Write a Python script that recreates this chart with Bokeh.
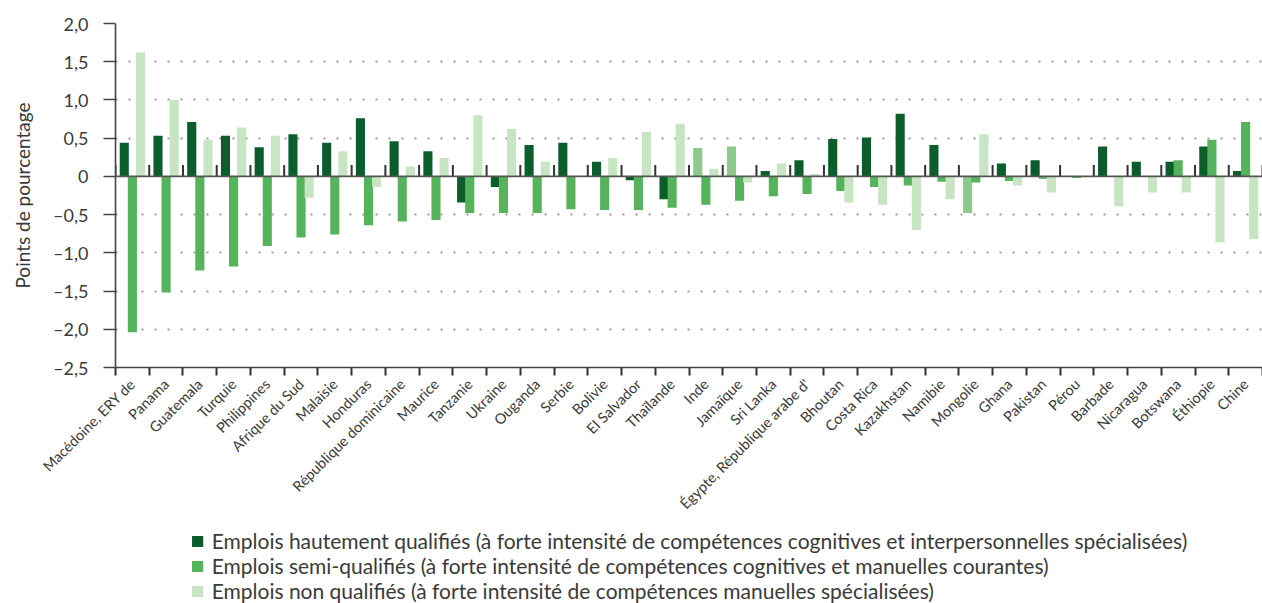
import math
from bokeh.plotting import figure
from bokeh.layouts import column
from bokeh.models import (ColumnDataSource, Range1d, FixedTicker, Span, Legend, LegendItem)
from bokeh.transform import dodge
from bokeh.embed import file_html
from bokeh.resources import INLINE

categories = [
    "Macédoine, ERY de", "Panama", "Guatemala", "Turquie", "Philippines",
    "Afrique du Sud", "Malaisie", "Honduras", "République dominicaine", "Maurice",
    "Tanzanie", "Ukraine", "Ouganda", "Serbie", "Bolivie", "El Salvador",
    "Thaïlande", "Inde", "Jamaïque", "Sri Lanka", "Égypte, République arabe d'",
    "Bhoutan", "Costa Rica", "Kazakhstan", "Namibie", "Mongolie", "Ghana",
    "Pakistan", "Pérou", "Barbade", "Nicaragua", "Botswana", "Éthiopie", "Chine",
]
high_skill = [0.44, 0.53, 0.71, 0.53, 0.38, 0.55, 0.44, 0.76, 0.46, 0.33,
              -0.34, -0.14, 0.41, 0.44, 0.19, -0.05, -0.30, 0.37, 0.39, 0.07,
              0.21, 0.49, 0.51, 0.82, 0.41, -0.48, 0.17, 0.21, 0.0, 0.39,
              0.19, 0.19, 0.39, 0.07]
semi_skill = [-2.04, -1.52, -1.23, -1.18, -0.91, -0.80, -0.76, -0.64, -0.59, -0.57,
              -0.48, -0.48, -0.48, -0.43, -0.44, -0.44, -0.41, -0.37, -0.32, -0.26,
              -0.23, -0.19, -0.14, -0.12, -0.07, -0.08, -0.06, -0.03, -0.02, 0.0,
              0.0, 0.21, 0.48, 0.71]
low_skill = [1.62, 1.00, 0.48, 0.64, 0.53, -0.28, 0.33, -0.14, 0.13, 0.24,
             0.80, 0.62, 0.19, 0.0, 0.24, 0.58, 0.69, 0.10, -0.08, 0.17,
             0.03, -0.34, -0.37, -0.70, -0.30, 0.55, -0.12, -0.21, -0.01, -0.39,
             -0.21, -0.21, -0.86, -0.82]
# countries whose high-skill bar is drawn in a lighter tint in the source
muted_high = ["Inde", "Jamaïque", "Mongolie"]

y_ticks = [2.0, 1.5, 1.0, 0.5, 0.0, -0.5, -1.0, -1.5, -2.0, -2.5]
y_tick_labels = ["2,0", "1,5", "1,0", "0,5", "0", "–0,5", "–1,0", "–1,5", "–2,0", "–2,5"]
y_title = "Points de pourcentage"
legend_labels = [
    "Emplois hautement qualifiés (à forte intensité de compétences cognitives et interpersonnelles spécialisées)",
    "Emplois semi-qualifiés (à forte intensité de compétences cognitives et manuelles courantes)",
    "Emplois non qualifiés (à forte intensité de compétences manuelles spécialisées)",
]

DARK = "#0b5e2b"
MID = "#55b35b"
LIGHT = "#c7e4c3"
MUTED = "#8dc98b"
FONT = "Lato"
TXT = "#3a3a3a"

n = len(categories)
xc = [i + 0.5 for i in range(n)]
bounds = list(range(n + 1))
high_colors = [MUTED if c in muted_high else DARK for c in categories]

src = ColumnDataSource(dict(x=xc, high=high_skill, semi=semi_skill, low=low_skill,
                            hc=high_colors))

W = 1262
p = figure(width=W, height=528, x_range=Range1d(0, n), y_range=Range1d(-2.5, 2.0),
           output_backend="svg", toolbar_location=None,
           min_border_left=115, min_border_top=23, min_border_right=0,
           min_border_bottom=161)
p.outline_line_color = None
p.background_fill_color = "white"
p.border_fill_color = "white"

# grid
p.xgrid.grid_line_color = None
p.ygrid.ticker = FixedTicker(ticks=[t for t in y_ticks if t != 0])
p.ygrid.grid_line_color = "#9a9a9a"
p.ygrid.grid_line_width = 2
p.ygrid.grid_line_dash = "2 11"

bw = 0.27
p.vbar(x=dodge("x", -0.24), top="high", bottom=0, width=bw, source=src,
       fill_color="hc", line_color=None)
p.vbar(x=dodge("x", 0.0), top="semi", bottom=0, width=bw, source=src,
       fill_color=MID, line_color=None)
p.vbar(x=dodge("x", 0.24), top="low", bottom=0, width=bw, source=src,
       fill_color=LIGHT, line_color=None)

# zero line and its small category separators
p.add_layout(Span(location=0, dimension="width", line_color="#555555", line_width=1.6))
p.segment(x0=bounds, y0=[0] * len(bounds), x1=bounds, y1=[0.15] * len(bounds),
          line_color="#333333", line_width=2)

# y axis
yax = p.yaxis[0]
yax.ticker = FixedTicker(ticks=y_ticks)
yax.major_label_overrides = {(int(t) if float(t).is_integer() else t): lab
                             for t, lab in zip(y_ticks, y_tick_labels)}
yax.axis_line_color = "#444444"
yax.axis_line_width = 1.6
yax.major_tick_line_color = "#444444"
yax.major_tick_line_width = 1.6
yax.major_tick_out = 12
yax.major_tick_in = 0
yax.minor_tick_line_color = None
yax.major_label_standoff = 15
yax.major_label_text_font = FONT
yax.major_label_text_font_size = "18px"
yax.major_label_text_color = TXT
yax.axis_label = y_title
yax.axis_label_text_font = FONT
yax.axis_label_text_font_style = "normal"
yax.axis_label_text_font_size = "19px"
yax.axis_label_text_color = TXT
yax.axis_label_standoff = 16

# x axis
xax = p.xaxis[0]
xax.ticker = FixedTicker(ticks=xc, minor_ticks=bounds)
xax.major_label_overrides = {x: c for x, c in zip(xc, categories)}
xax.major_label_orientation = math.pi / 4
xax.major_tick_line_color = None
xax.minor_tick_line_color = "#333333"
xax.minor_tick_line_width = 2
xax.minor_tick_out = 8
xax.minor_tick_in = 0
xax.axis_line_color = "#444444"
xax.axis_line_width = 1.6
xax.major_label_standoff = 6
xax.major_label_text_font = FONT
xax.major_label_text_font_size = "14.5px"
xax.major_label_text_color = TXT

# legend in its own strip below the chart (swatch renderers carry no visible bar)
lg = figure(width=W, height=75, x_range=Range1d(0, 1), y_range=Range1d(0, 1),
            output_backend="svg", toolbar_location=None,
            min_border_left=115, min_border_right=0, min_border_top=0,
            min_border_bottom=0)
lg.axis.visible = False
lg.grid.grid_line_color = None
lg.outline_line_color = None
lg.border_fill_color = "white"
nan = float("nan")
swatches = [lg.vbar(x=[nan], top=[nan], bottom=[nan], width=0.1, fill_color=c,
                    line_color=None) for c in (DARK, MID, LIGHT)]
legend = Legend(items=[LegendItem(label=lab, renderers=[r])
                       for lab, r in zip(legend_labels, swatches)],
                location="top_center", orientation="vertical")
legend.border_line_color = None
legend.background_fill_alpha = 0
legend.label_text_font = FONT
legend.label_text_font_size = "21px"
legend.label_text_color = TXT
legend.glyph_width = 14
legend.glyph_height = 14
legend.label_height = 20
legend.spacing = 0
legend.label_standoff = 8
legend.padding = 0
legend.margin = 0
lg.add_layout(legend, "center")

layout = column(p, lg, spacing=0)
open("out.html", "w").write(file_html(layout, INLINE))
